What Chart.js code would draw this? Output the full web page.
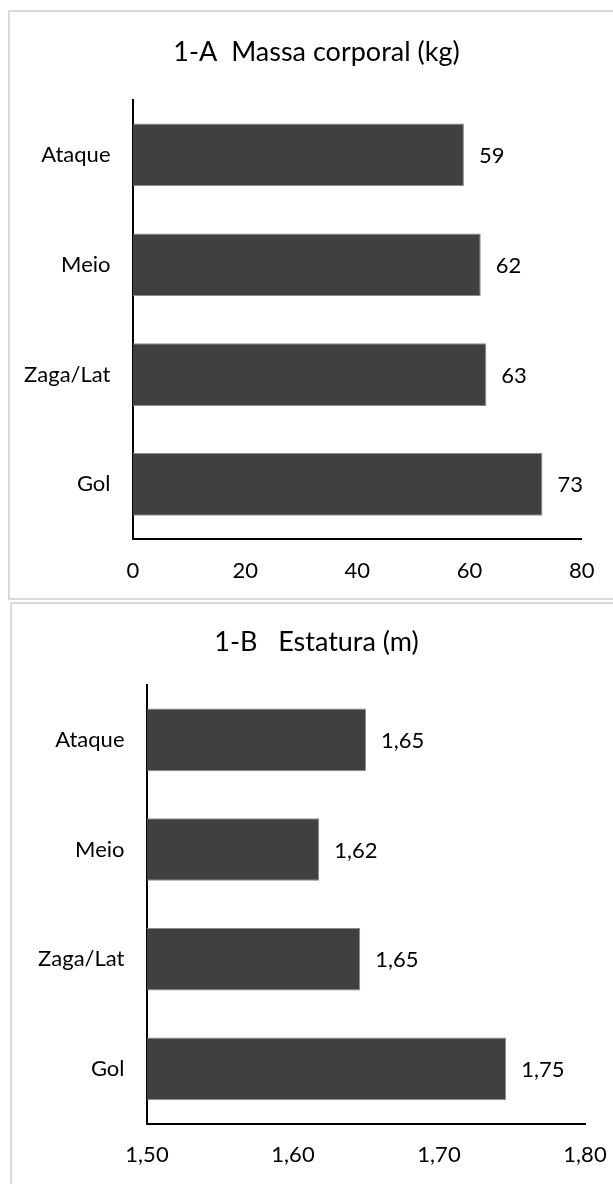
<!DOCTYPE html>
<html>
<head>
<meta charset="utf-8">
<script src="https://cdn.jsdelivr.net/npm/chart.js@4.4.1/dist/chart.umd.min.js"></script>
<style>
  html, body { margin: 0; padding: 0; background: #fff; width: 613px; height: 1184px; overflow: hidden; position: relative; }
  .frame { position: absolute; border: 2px solid #d9d9d9; box-sizing: border-box; }
  #frameA { left: 8px; top: 10px; width: 660px; height: 590px; }
  #frameB { left: 10px; top: 602px; width: 660px; height: 700px; }
  canvas { position: absolute; left: 0; }
  #massChart { top: 0; }
  #heightChart { top: 601px; }
</style>
</head>
<body>
<div class="frame" id="frameA"></div>
<div class="frame" id="frameB"></div>
<canvas id="massChart" width="613" height="600"></canvas>
<canvas id="heightChart" width="613" height="583"></canvas>
<script>
// Player positions, top to bottom
const positions = ['Ataque', 'Meio', 'Zaga/Lat', 'Gol'];

// 1-A: body mass (kg)
const massKg = [59, 62, 63, 73];
const massTicks = [0, 20, 40, 60, 80];

// 1-B: stature (m)
const statureM = [1.65, 1.618, 1.646, 1.746];
const statureTicks = [1.5, 1.6, 1.7, 1.8];

const FONT = 'Lato';
const TEXT = '#000';
const BAR = '#404040';

const fmtInt = v => String(Math.round(v));
const fmtComma = v => v.toFixed(2).replace('.', ',');

// Writes each bar's value just past its end
const valueLabels = {
  id: 'valueLabels',
  afterDatasetsDraw(chart, args, opts) {
    const ctx = chart.ctx;
    const values = chart.data.datasets[0].data;
    ctx.save();
    ctx.font = opts.size + 'px ' + FONT;
    ctx.fillStyle = TEXT;
    ctx.textAlign = 'left';
    ctx.textBaseline = 'middle';
    chart.getDatasetMeta(0).data.forEach((bar, i) => {
      ctx.fillText(opts.format(values[i]), bar.x + opts.offset, bar.y + 1);
    });
    ctx.restore();
  }
};

// Heading centred on the framed panel rather than on the plot
const panelTitle = {
  id: 'panelTitle',
  afterDraw(chart, args, opts) {
    const ctx = chart.ctx;
    ctx.save();
    ctx.font = opts.size + 'px ' + FONT;
    ctx.fillStyle = TEXT;
    ctx.textAlign = 'center';
    ctx.textBaseline = 'middle';
    ctx.fillText(opts.text, opts.x, opts.y);
    ctx.restore();
  }
};

function buildChart(canvasId, cfg) {
  return new Chart(document.getElementById(canvasId), {
    type: 'bar',
    data: {
      labels: positions,
      datasets: [{
        data: cfg.values,
        backgroundColor: BAR,
        borderColor: '#8a8a8a',
        borderWidth: 1,
        categoryPercentage: 1,
        barPercentage: 0.571
      }]
    },
    options: {
      indexAxis: 'y',
      responsive: false,
      animation: false,
      devicePixelRatio: 1,
      layout: { padding: { left: 0, right: cfg.padRight, top: cfg.plotTop, bottom: 0 } },
      plugins: {
        legend: { display: false },
        tooltip: { enabled: false },
        title: { display: false },
        panelTitle: { text: cfg.title, x: 316.5, y: cfg.titleY, size: 27 },
        valueLabels: { size: 22, offset: 15, format: cfg.format }
      },
      scales: {
        x: {
          type: 'linear',
          min: cfg.ticks[0],
          max: cfg.ticks[cfg.ticks.length - 1],
          grid: { display: false, drawTicks: true, tickLength: 18.5 },
          border: { display: true, color: '#000', width: 2 },
          afterBuildTicks: s => { s.ticks = cfg.ticks.map(v => ({ value: v })); },
          afterFit: s => { s.height = cfg.axisHeight; },
          ticks: {
            color: TEXT,
            padding: 0,
            maxRotation: 0,
            autoSkip: false,
            font: { family: FONT, size: 22 },
            callback: v => cfg.format(v)
          }
        },
        y: {
          type: 'category',
          grid: { display: false, drawTicks: false },
          border: { display: true, color: '#000', width: 2 },
          afterFit: s => { s.width = cfg.axisLeft; },
          ticks: {
            color: TEXT,
            padding: 22.5,
            font: { family: FONT, size: 22 }
          }
        }
      }
    },
    plugins: [valueLabels, panelTitle]
  });
}

buildChart('massChart', {
  values: massKg,
  ticks: massTicks,
  format: fmtInt,
  title: '1-A  Massa corporal (kg)',
  titleY: 52,
  plotTop: 100,
  padRight: 31.3,
  axisLeft: 133,
  axisHeight: 60.7
});

buildChart('heightChart', {
  values: statureM,
  ticks: statureTicks,
  format: fmtComma,
  title: '1-B   Estatura (m)',
  titleY: 41,
  plotTop: 84,
  padRight: 28,
  axisLeft: 147,
  axisHeight: 60.3
});
</script>
</body>
</html>
